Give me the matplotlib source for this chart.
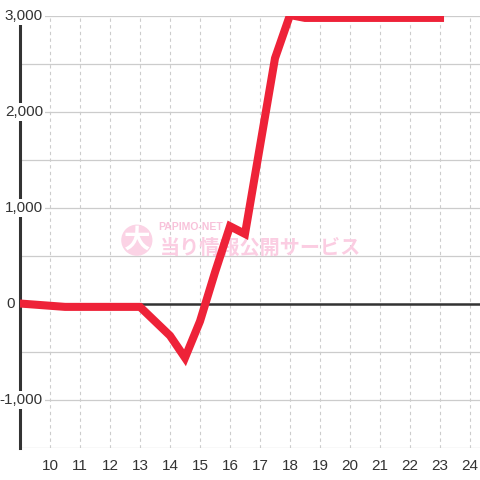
import matplotlib.pyplot as plt

plt.rcParams['font.family'] = ['Liberation Sans', 'DejaVu Sans']

# 時刻ごとの差枚数
hours = [9, 10.5, 13, 14, 14.5, 15, 15.5, 16, 16.5, 17.5, 18, 18.5, 23]
values = [5, -30, -30, -330, -560, -180, 330, 810, 730, 2560, 3010, 2980, 2980]

x_ticks = list(range(10, 25))
y_grid = list(range(-1500, 3001, 500))
y_labels = [-1000, 0, 1000, 2000, 3000]

fig = plt.figure(figsize=(4.8, 4.8), dpi=100)
ax = fig.add_axes([20 / 480, 32 / 480, 460 / 480, 432 / 480])
ax.set_xlim(9, 9 + 460 / 30)
ax.set_ylim(-1500, 3000)

for s in ['top', 'right', 'bottom']:
    ax.spines[s].set_visible(False)
ax.spines['left'].set_color('#333333')
ax.spines['left'].set_linewidth(2.2)
ax.spines['left'].set_zorder(3)

# グリッド
for y in y_grid:
    ax.axhline(y, color='#cccccc', lw=0.9, zorder=1)
for x in x_ticks:
    ax.axvline(x, color='#cccccc', lw=0.8, ls=(0, (3, 3)), zorder=1)
ax.axhline(0, color='#333333', lw=1.8, zorder=2)

# 透かし
ax.text(0.254, 0.481, '大', transform=ax.transAxes, ha='center', va='center',
        fontsize=19, fontweight='bold', color='white', family=['Noto Sans CJK JP'],
        bbox=dict(boxstyle='circle,pad=0.08', fc='#fbd3e5', ec='none'), zorder=1.5)
ax.text(0.37, 0.512, 'PAPIMO-NET', transform=ax.transAxes, ha='center',
        va='center', fontsize=7.5, fontweight='bold', color='#f8c2da', zorder=1.5)
ax.text(0.522, 0.465, '当り情報公開サービス', transform=ax.transAxes, ha='center',
        va='center', fontsize=14.5, fontweight='bold', color='#fbcde2',
        family=['Noto Sans CJK JP'], zorder=1.5)

ax.plot(hours, values, color='#ee2238', lw=5.8, solid_joinstyle='miter', zorder=6)

# 軸ラベル
ax.set_xticks(x_ticks)
ax.tick_params(axis='x', length=0, pad=8, labelsize=11, labelcolor='#333333')
ax.set_yticks([])
for y in y_labels:
    xr = -5 / 460 if y == 0 else 23 / 460
    ax.text(xr, y, f'{y:,}', transform=ax.get_yaxis_transform(),
            ha='right', va='center', fontsize=11, color='#333333',
            bbox=dict(boxstyle='square,pad=0.1', fc='white', ec='none'), zorder=5)

fig.savefig('out.png', dpi=100)
